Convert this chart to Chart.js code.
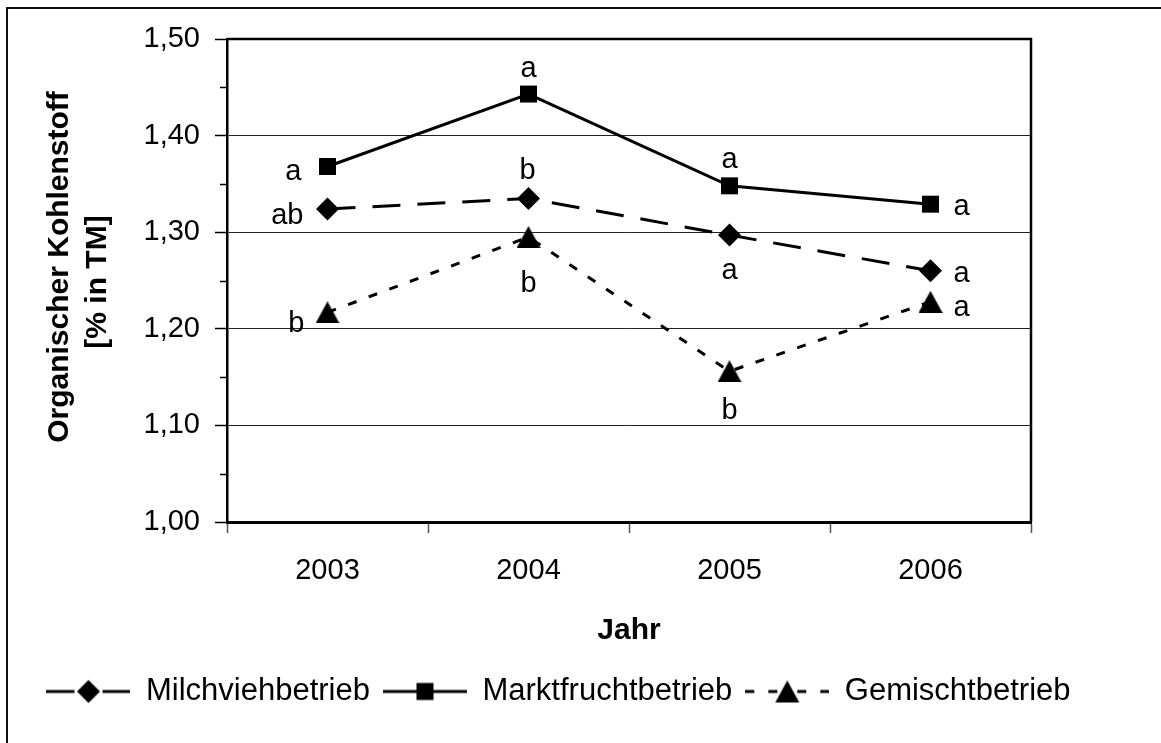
<!DOCTYPE html>
<html>
<head>
<meta charset="utf-8">
<script src="https://cdn.jsdelivr.net/npm/chart.js@4.4.1/dist/chart.umd.min.js"></script>
<style>
  html, body { margin: 0; padding: 0; background: #fff; overflow: hidden; }
  canvas { display: block; }
</style>
</head>
<body>
<canvas id="chart" width="1161" height="743"></canvas>
<script>
// Organic carbon content by farm type, 2003-2006
const years = ['2003', '2004', '2005', '2006'];
const milchvieh   = [1.324, 1.335, 1.297, 1.260];
const marktfrucht = [1.368, 1.443, 1.348, 1.329];
const gemischt    = [1.217, 1.295, 1.156, 1.228];

// significance letters per point
const milchLetters    = ['ab', 'b', 'a', 'a'];
const marktLetters    = ['a', 'a', 'a', 'a'];
const gemischtLetters = ['b', 'b', 'b', 'a'];

const seriesNames = ['Milchviehbetrieb', 'Marktfruchtbetrieb', 'Gemischtbetrieb'];
const yTickValues = [1.00, 1.10, 1.20, 1.30, 1.40, 1.50];
const yTitleLines = ['Organischer Kohlenstoff', '[% in TM]'];
const xTitle = 'Jahr';

const FONT = "'Liberation Sans', Arial, sans-serif";
const TEXT_SIZE = 29;
const LEGEND_SIZE = 31;

// where each letter sits relative to its point: [textAlign, dx, dy]
const letterPlacement = [
  [['right', -24, 15], ['center', -1, -19], ['center', 0, 44], ['left', 23, 11]],
  [['right', -26, 13], ['center', 0, -17], ['center', 0, -18], ['left', 23, 11]],
  [['right', -23, 20], ['center', 0, 55], ['center', 0, 48], ['left', 23, 14]]
];

// y axis title lines: [centre x, centre y]
const yTitlePlacement = [[60, 267], [98, 282]];

function makeCanvas(w, h, paint) {
  const c = document.createElement('canvas');
  c.width = w; c.height = h;
  paint(c.getContext('2d'));
  return c;
}
function drawDiamond(g, x, y, r) {
  g.beginPath(); g.moveTo(x - r, y); g.lineTo(x, y - r); g.lineTo(x + r, y); g.lineTo(x, y + r);
  g.closePath(); g.fill();
}
function drawSquare(g, x, y, s) { g.fillRect(x - s / 2, y - s / 2, s, s); }
function drawTriangle(g, x, y, w, h) {
  g.beginPath(); g.moveTo(x - w / 2, y + h / 2); g.lineTo(x, y - h / 2); g.lineTo(x + w / 2, y + h / 2);
  g.closePath(); g.fill();
}

// triangle marker centred on its bounding box
const triangleMarker = makeCanvas(24, 22, g => { g.fillStyle = '#000'; drawTriangle(g, 12, 11, 24, 22); });

// legend samples: line (dashed symmetrically from both ends) with the marker in the middle
const SAMPLE_W = 84, SAMPLE_H = 26;
function legendSample(dash, marker) {
  return makeCanvas(SAMPLE_W, SAMPLE_H, g => {
    const mid = SAMPLE_W / 2, y = SAMPLE_H / 2;
    g.strokeStyle = '#000'; g.lineWidth = 3; g.setLineDash(dash);
    g.beginPath(); g.moveTo(0, y); g.lineTo(mid, y); g.stroke();
    g.beginPath(); g.moveTo(SAMPLE_W, y); g.lineTo(mid, y); g.stroke();
    g.setLineDash([]); g.fillStyle = '#000';
    marker(g, mid, y);
  });
}
const legendImages = [
  legendSample([28, 18], (g, x, y) => drawDiamond(g, x, y, 11.5)),
  legendSample([], (g, x, y) => drawSquare(g, x, y, 17)),
  legendSample([9, 14], (g, x, y) => drawTriangle(g, x, y, 24, 22))
];

const letterPlugin = {
  id: 'letters',
  afterDatasetsDraw(chart) {
    const ctx = chart.ctx;
    ctx.save();
    ctx.font = `${TEXT_SIZE}px ${FONT}`;
    ctx.fillStyle = '#000';
    ctx.textBaseline = 'alphabetic';
    chart.data.datasets.forEach((ds, i) => {
      chart.getDatasetMeta(i).data.forEach((pt, j) => {
        const [align, dx, dy] = letterPlacement[i][j];
        ctx.textAlign = align;
        ctx.fillText(ds.letters[j], pt.x + dx, pt.y + dy);
      });
    });
    ctx.restore();
  }
};

const framePlugin = {
  id: 'frame',
  beforeDraw(chart) {
    const c = chart.ctx;
    c.save();
    c.fillStyle = '#fff';
    c.fillRect(0, 0, chart.width, chart.height);
    // outer chart border
    c.strokeStyle = '#111'; c.lineWidth = 2;
    c.beginPath(); c.moveTo(7, chart.height); c.lineTo(7, 8); c.lineTo(chart.width, 8); c.stroke();
    c.restore();
  },
  afterDraw(chart) {
    const c = chart.ctx, a = chart.chartArea, y = chart.scales.y;
    c.save();
    // plot area border on top and right
    c.strokeStyle = '#000'; c.lineWidth = 2.5;
    c.beginPath(); c.moveTo(a.left, a.top); c.lineTo(a.right, a.top); c.lineTo(a.right, a.bottom); c.stroke();
    // minor ticks halfway between major y ticks
    c.lineWidth = 1.5;
    const vals = y.ticks.map(t => t.value);
    for (let i = 0; i < vals.length - 1; i++) {
      const py = Math.round(y.getPixelForValue((vals[i] + vals[i + 1]) / 2)) + 0.5;
      c.beginPath(); c.moveTo(y.right - 7, py); c.lineTo(y.right, py); c.stroke();
    }
    // rotated y axis title, two lines
    c.fillStyle = '#000';
    c.font = `bold 30px ${FONT}`;
    c.textAlign = 'center';
    c.textBaseline = 'middle';
    yTitleLines.forEach((line, i) => {
      const [tx, ty] = yTitlePlacement[i];
      c.save();
      c.translate(tx, ty);
      c.rotate(-Math.PI / 2);
      c.fillText(line, 0, 0);
      c.restore();
    });
    c.restore();
  }
};

new Chart(document.getElementById('chart'), {
  type: 'line',
  data: {
    labels: years,
    datasets: [
      {
        label: seriesNames[0], data: milchvieh, letters: milchLetters,
        borderColor: '#000', borderWidth: 3, borderDash: [28, 17],
        pointStyle: 'rectRot', pointRadius: 11.5, pointBackgroundColor: '#000', pointBorderWidth: 0
      },
      {
        label: seriesNames[1], data: marktfrucht, letters: marktLetters,
        borderColor: '#000', borderWidth: 3,
        pointStyle: 'rect', pointRadius: 12, pointBackgroundColor: '#000', pointBorderWidth: 0
      },
      {
        label: seriesNames[2], data: gemischt, letters: gemischtLetters,
        borderColor: '#000', borderWidth: 3, borderDash: [9, 13],
        pointStyle: triangleMarker, pointRadius: 12, pointBackgroundColor: '#000', pointBorderWidth: 0
      }
    ]
  },
  options: {
    responsive: false,
    animation: false,
    devicePixelRatio: 1,
    layout: { padding: { left: 0, right: 44, top: 39, bottom: 26 } },
    elements: { line: { tension: 0, fill: false } },
    scales: {
      x: {
        type: 'category',
        offset: true,
        afterFit: s => { s.height = 141; },
        grid: { offset: true, drawOnChartArea: false, tickLength: 11, tickColor: '#555', tickWidth: 1.5 },
        border: { display: true, color: '#000', width: 3 },
        ticks: { color: '#000', padding: 21, maxRotation: 0, font: { family: FONT, size: TEXT_SIZE } },
        title: {
          display: true, text: xTitle, color: '#000',
          font: { family: FONT, size: 30, weight: 'bold', lineHeight: 1.2 },
          padding: { top: 0, bottom: 14 }
        }
      },
      y: {
        position: 'left',
        min: 1.0, max: 1.5,
        afterFit: s => { s.width = 227; },
        afterBuildTicks: s => { s.ticks = yTickValues.map(v => ({ value: v })); },
        grid: { color: '#222', lineWidth: 1, tickLength: 12, tickColor: '#000', tickWidth: 1.5 },
        border: { display: true, color: '#000', width: 2.5 },
        ticks: {
          color: '#000', padding: 15, font: { family: FONT, size: TEXT_SIZE },
          callback: v => v.toFixed(2).replace('.', ',')
        }
      },
      spacer: {
        type: 'linear', position: 'right', display: true,
        afterFit: s => { s.width = 86; },
        grid: { display: false }, ticks: { display: false }, border: { display: false }
      }
    },
    plugins: {
      tooltip: { enabled: false },
      legend: {
        position: 'bottom',
        labels: {
          color: '#000',
          font: { family: FONT, size: LEGEND_SIZE },
          usePointStyle: true,
          pointStyleWidth: SAMPLE_W,
          padding: 13,
          generateLabels: chart => chart.data.datasets.map((ds, i) => ({
            text: ds.label, pointStyle: legendImages[i], fillStyle: '#000', strokeStyle: '#000',
            lineWidth: 0, hidden: false, datasetIndex: i, fontColor: '#000'
          }))
        }
      }
    }
  },
  plugins: [framePlugin, letterPlugin]
});
</script>
</body>
</html>
